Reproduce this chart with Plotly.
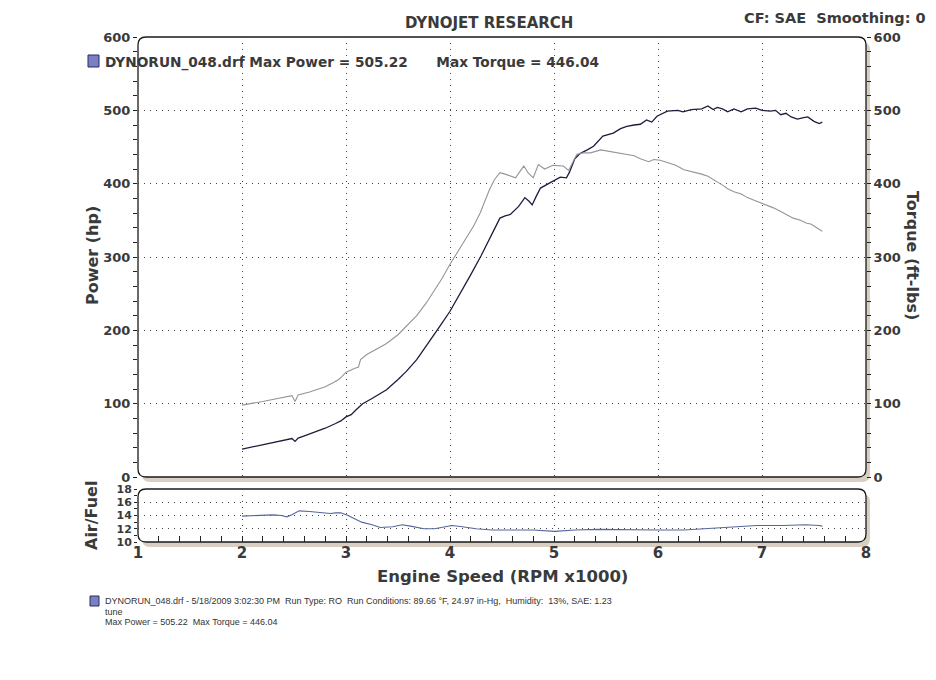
import plotly.graph_objects as go

# ---------------- data ----------------
rpm_power = [2.00, 2.10, 2.20, 2.30, 2.40, 2.48, 2.51, 2.54, 2.60, 2.70, 2.80, 2.90, 2.95, 3.00,
             3.05, 3.10, 3.16, 3.25, 3.39, 3.50, 3.58, 3.68, 3.77, 3.90, 4.00, 4.10, 4.20, 4.30,
             4.40, 4.48, 4.53, 4.58, 4.66, 4.72, 4.76, 4.79, 4.83, 4.87, 4.96, 5.06, 5.12, 5.15,
             5.20, 5.25, 5.32, 5.38, 5.47, 5.57, 5.64, 5.70, 5.77, 5.83, 5.89, 5.94, 5.99, 6.09,
             6.19, 6.24, 6.32, 6.42, 6.48, 6.53, 6.57, 6.62, 6.67, 6.73, 6.80, 6.86, 6.94, 7.00,
             7.08, 7.13, 7.18, 7.23, 7.28, 7.34, 7.40, 7.44, 7.50, 7.55, 7.58]
power_hp = [38, 41, 44, 46.5, 49.5, 52.5, 48.5, 53, 56, 61, 66.5, 73, 76.5, 82,
            85, 92, 100, 107, 119, 133, 144, 160, 178, 205, 226, 250, 276, 302,
            331, 353, 356, 358, 369, 381, 376, 371, 383, 394, 401, 409, 408, 416,
            434, 441, 446, 451, 465, 469, 475, 478, 480, 481, 487, 484, 492, 499,
            500, 498, 501, 502, 506, 501, 504, 502, 498, 502, 498, 502, 503, 500,
            499, 500, 494, 496, 491, 488, 490, 491, 485, 482, 484]

rpm_torque = [2.00, 2.10, 2.20, 2.27, 2.40, 2.48, 2.51, 2.54, 2.65, 2.80, 2.88, 2.93, 2.96, 3.00,
              3.08, 3.12, 3.14, 3.20, 3.30, 3.39, 3.50, 3.58, 3.68, 3.77, 3.85, 3.92, 4.00, 4.08,
              4.16, 4.23, 4.29, 4.34, 4.38, 4.43, 4.48, 4.53, 4.58, 4.63, 4.67, 4.71, 4.75, 4.80,
              4.85, 4.91, 4.99, 5.09, 5.14, 5.18, 5.22, 5.28, 5.35, 5.45, 5.57, 5.70, 5.77, 5.83,
              5.91, 5.96, 6.02, 6.09, 6.17, 6.25, 6.35, 6.42, 6.48, 6.57, 6.62, 6.67, 6.73, 6.80,
              6.86, 6.93, 7.00, 7.06, 7.11, 7.18, 7.24, 7.30, 7.37, 7.43, 7.47, 7.52, 7.58]
torque_ftlb = [98, 100, 103, 105, 109, 111, 103, 112, 116, 123, 129, 133, 137, 143,
               148, 150, 160, 167, 175, 182, 194, 205, 220, 237, 255, 270, 290, 308,
               326, 343, 360, 378, 392, 406, 415, 413, 411, 408, 416, 424, 415, 408,
               426, 420, 425, 424, 418, 428, 440, 442, 442, 446, 443, 440, 438, 434,
               430, 433, 432, 429, 425, 419, 416, 413, 410, 403, 398, 393, 389, 386,
               381, 377, 373, 370, 367, 362, 358, 353, 350, 346, 345, 340, 335]

rpm_afr = [2.00, 2.10, 2.20, 2.30, 2.38, 2.43, 2.48, 2.55, 2.65, 2.75, 2.85, 2.90, 2.95, 3.02,
           3.08, 3.15, 3.25, 3.33, 3.45, 3.54, 3.62, 3.75, 3.85, 3.95, 4.02, 4.12, 4.25, 4.40,
           4.60, 4.80, 5.01, 5.20, 5.43, 5.70, 6.00, 6.25, 6.43, 6.60, 6.80, 6.95, 7.20, 7.42,
           7.55, 7.58]
afr = [13.9, 14.0, 14.1, 14.1, 14.0, 13.8, 14.1, 14.7, 14.6, 14.5, 14.3, 14.4, 14.4, 14.0,
       13.5, 13.0, 12.6, 12.2, 12.3, 12.6, 12.4, 12.0, 12.0, 12.3, 12.5, 12.3, 12.0, 11.8,
       11.8, 11.8, 11.6, 11.8, 11.9, 11.8, 11.8, 11.8, 12.0, 12.2, 12.4, 12.5, 12.5, 12.6,
       12.5, 12.4]

x_ticks = [1, 2, 3, 4, 5, 6, 7, 8]
power_ticks = [0, 100, 200, 300, 400, 500, 600]
afr_ticks = [10, 12, 14, 16, 18]

title_text = "DYNOJET RESEARCH"
cf_text = "CF: SAE  Smoothing: 0"
legend_text = "DYNORUN_048.drf Max Power = 505.22&nbsp;&nbsp;&nbsp;&nbsp;&nbsp;&nbsp;Max Torque = 446.04"
info_lines = ["DYNORUN_048.drf - 5/18/2009 3:02:30 PM  Run Type: RO  Run Conditions: 89.66 °F, 24.97 in-Hg,  Humidity:  13%, SAE: 1.23",
              "tune",
              "Max Power = 505.22  Max Torque = 446.04"]

# ---------------- layout geometry ----------------
W, H = 936, 680
L, R, T, B = 138, 70, 37, 138
PW, PH = W - L - R, H - T - B


def px(x):
    return (x - L) / PW


def py(y):
    return (H - B - y) / PH


main_dom = [py(477), 1.0]
afr_dom = [0.0, py(489)]

BOLD = "DejaVu Sans"
TXT = "#3a3a3a"
GRID = dict(showgrid=True, gridcolor="#444444", gridwidth=1, griddash="1px,5px")

fig = go.Figure()
fig.add_trace(go.Scatter(x=rpm_torque, y=torque_ftlb, mode="lines", xaxis="x", yaxis="y2",
                         line=dict(color="#94949c", width=1.1), showlegend=False, hoverinfo="skip"))
fig.add_trace(go.Scatter(x=rpm_power, y=power_hp, mode="lines", xaxis="x", yaxis="y",
                         line=dict(color="#1c1c3c", width=1.3), showlegend=False, hoverinfo="skip"))
fig.add_trace(go.Scatter(x=rpm_afr, y=afr, mode="lines", xaxis="x2", yaxis="y3",
                         line=dict(color="#54679c", width=1.1), showlegend=False, hoverinfo="skip"))

tickfont = dict(family=BOLD, size=13, color=TXT, weight="bold")

fig.update_layout(
    width=W, height=H,
    margin=dict(l=L, r=R, t=T, b=B),
    paper_bgcolor="white", plot_bgcolor="rgba(0,0,0,0)",
    xaxis=dict(domain=[0, 1], range=[1, 8], anchor="y", tickvals=x_ticks, showticklabels=False,
               ticks="", showline=False, zeroline=False, **GRID),
    yaxis=dict(domain=main_dom, range=[0, 600], anchor="x", tickvals=power_ticks, tickfont=tickfont,
               ticks="outside", ticklen=4, tickcolor="#222", showline=False, zeroline=False,
               minor=dict(dtick=20, ticks="outside", ticklen=4, tickcolor="#222"), **GRID),
    yaxis2=dict(range=[0, 600], overlaying="y", side="right", anchor="x", tickvals=power_ticks,
                tickfont=tickfont, ticks="outside", ticklen=4, tickcolor="#222", showgrid=False,
                showline=False, zeroline=False,
                minor=dict(dtick=20, ticks="outside", ticklen=4, tickcolor="#222")),
    yaxis4=dict(range=[0, 600], overlaying="y", side="left", anchor="x", tickvals=power_ticks,
                showticklabels=False, ticks="inside", ticklen=4, tickcolor="#222", showgrid=False,
                showline=False, zeroline=False,
                minor=dict(dtick=20, ticks="inside", ticklen=4, tickcolor="#222")),
    yaxis5=dict(range=[0, 600], overlaying="y", side="right", anchor="x", tickvals=power_ticks,
                showticklabels=False, ticks="inside", ticklen=4, tickcolor="#222", showgrid=False,
                showline=False, zeroline=False,
                minor=dict(dtick=20, ticks="inside", ticklen=4, tickcolor="#222")),
    xaxis2=dict(domain=[0, 1], range=[1, 8], anchor="y3", tickvals=x_ticks,
                tickfont=dict(family=BOLD, size=15, color=TXT, weight="bold"),
                ticks="inside", ticklen=6, tickcolor="#222", showline=False, zeroline=False,
                minor=dict(dtick=0.2, ticks="inside", ticklen=6, tickcolor="#222"), **GRID),
    yaxis3=dict(domain=afr_dom, range=[10, 18], anchor="x2", tickvals=afr_ticks,
                tickfont=dict(family=BOLD, size=11, color=TXT, weight="bold"),
                ticks="outside", ticklen=3, tickcolor="#222", showline=False, zeroline=False,
                minor=dict(dtick=1, ticks="outside", ticklen=3, tickcolor="#222"), **GRID),
)

# ---------------- rounded frames with shadow ----------------
def rounded(x0, y0, x1, y1, r=8):
    X = lambda v: f"{px(v):.5f}"
    Y = lambda v: f"{py(v):.5f}"
    return (f"M {X(x0 + r)},{Y(y0)} L {X(x1 - r)},{Y(y0)} Q {X(x1)},{Y(y0)} {X(x1)},{Y(y0 + r)} "
            f"L {X(x1)},{Y(y1 - r)} Q {X(x1)},{Y(y1)} {X(x1 - r)},{Y(y1)} "
            f"L {X(x0 + r)},{Y(y1)} Q {X(x0)},{Y(y1)} {X(x0)},{Y(y1 - r)} "
            f"L {X(x0)},{Y(y0 + r)} Q {X(x0)},{Y(y0)} {X(x0 + r)},{Y(y0)} Z")

shapes = []
for (x0, y0, x1, y1) in [(138, 37, 866, 477), (138, 489, 866, 542)]:
    shapes.append(dict(type="path", xref="paper", yref="paper", layer="below",
                       path=rounded(x0 + 4, y0 + 5, x1 + 4, y1 + 5),
                       fillcolor="#d8cfc2", line=dict(width=0)))
    shapes.append(dict(type="path", xref="paper", yref="paper", layer="below",
                       path=rounded(x0, y0, x1, y1),
                       fillcolor="white", line=dict(color="#1a1a1a", width=1.3)))

# legend icons
for (x0, y0, x1, y1) in [(88, 55, 99, 67), (90, 596, 99, 606)]:
    shapes.append(dict(type="rect", xref="paper", yref="paper", x0=px(x0), x1=px(x1),
                       y0=py(y1), y1=py(y0), fillcolor="#7b80c4",
                       line=dict(color="#2a2a5a", width=1)))
fig.update_layout(shapes=shapes)

# ---------------- texts ----------------
ann = []


def add_text(text, x, y, size, xanchor="left", bold=True, angle=0, family=BOLD, color=TXT):
    ann.append(dict(text=text, x=px(x), y=py(y), xref="paper", yref="paper", showarrow=False,
                    xanchor=xanchor, yanchor="middle", textangle=angle,
                    font=dict(family=family, size=size, color=color,
                              weight="bold" if bold else "normal")))

add_text(title_text, 489, 23, 15, xanchor="center")
add_text(cf_text, 928, 18, 14.5, xanchor="right")
add_text(legend_text, 103, 62, 13.7)
add_text("Power (hp)", 92, 256, 16, xanchor="center", angle=-90)
add_text("Torque (ft-lbs)", 913, 255, 16, xanchor="center", angle=90)
add_text("Air/Fuel", 91, 516, 16, xanchor="center", angle=-90)
add_text("Engine Speed (RPM x1000)", 502, 576, 16.5, xanchor="center")
for i, line in enumerate(info_lines):
    add_text(line, 103, 601 + i * 10.5, 9, bold=False, family="Liberation Sans", color="#333")
fig.update_layout(annotations=ann)

fig.write_html("out.html", config={"displayModeBar": False},
               post_script="document.body.style.margin='0';document.body.style.overflow='hidden';")
